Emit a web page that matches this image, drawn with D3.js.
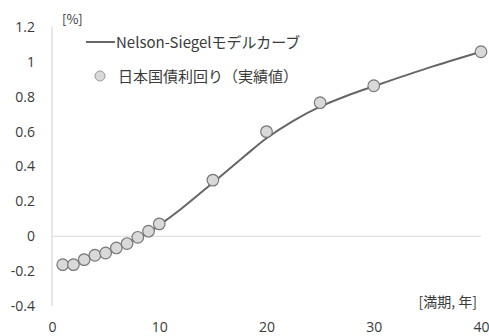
<!DOCTYPE html>
<html>
<head>
<meta charset="utf-8">
<script src="https://cdn.jsdelivr.net/npm/d3@7"></script>
<style>
  html, body { margin: 0; padding: 0; background: #fff; }
  svg { display: block; }
  .tick text, .lbl { fill: #3a3a3a; }
</style>
</head>
<body>
<svg id="chart" width="489" height="336"></svg>
<script>
// Observed JGB yields by maturity (years, %)
const maturities = [1, 2, 3, 4, 5, 6, 7, 8, 9, 10, 15, 20, 25, 30, 40];
const yields = [-0.163, -0.163, -0.134, -0.109, -0.096, -0.067, -0.042, -0.006, 0.029, 0.071, 0.322, 0.600, 0.766, 0.863, 1.058];

// Fitted Nelson-Siegel curve, sampled along maturity
const curveMaturities = [1, 2, 3, 4, 5, 6, 7, 8, 9, 10, 12, 15, 18, 20, 22.5, 25, 27.5, 30, 35, 40];
const curveYields = [-0.166, -0.153, -0.136, -0.117, -0.096, -0.072, -0.045, -0.014, 0.023, 0.064, 0.155, 0.307, 0.462, 0.562, 0.662, 0.743, 0.806, 0.86, 0.964, 1.058];

const yTicks = [-0.4, -0.2, 0, 0.2, 0.4, 0.6, 0.8, 1, 1.2];
const xTicks = [0, 10, 20, 30, 40];

const seriesNames = ["Nelson-Siegelモデルカーブ", "日本国債利回り（実績値）"];
const yUnit = "[%]";
const xUnit = "[満期, 年]";

const svg = d3.select("#chart");
const numFont = "'Open Sans', 'Noto Sans', sans-serif";
const jpFont = "'Noto Sans CJK JP', 'Noto Sans', sans-serif";

const x = d3.scaleLinear().domain([0, 40]).range([52, 481]);
const y = d3.scaleLinear().domain([-0.4, 1.2]).range([306, 27]);

// Vertical axis line
svg.append("line")
  .attr("x1", x(0)).attr("x2", x(0))
  .attr("y1", y(1.2)).attr("y2", y(-0.4))
  .attr("stroke", "#d9d9d9").attr("stroke-width", 1.2);

// Zero line
svg.append("line")
  .attr("x1", x(0)).attr("x2", x(40))
  .attr("y1", y(0)).attr("y2", y(0))
  .attr("stroke", "#d9d9d9").attr("stroke-width", 1.2);

// Y axis labels
const yAxis = d3.axisLeft(y).tickValues(yTicks).tickSize(0).tickPadding(17)
  .tickFormat(d => String(+d.toFixed(1)));
svg.append("g")
  .attr("transform", `translate(${x(0)},0)`)
  .call(yAxis)
  .call(g => g.select(".domain").remove())
  .selectAll("text")
  .style("font-family", numFont).style("font-size", "14px");

// X axis labels along the bottom
const xAxis = d3.axisBottom(x).tickValues(xTicks).tickSize(0).tickPadding(16);
svg.append("g")
  .attr("transform", `translate(0,${y(-0.4)})`)
  .call(xAxis)
  .call(g => g.select(".domain").remove())
  .selectAll("text")
  .style("font-family", numFont).style("font-size", "14px");

// Fitted curve
const lineGen = d3.line()
  .x((d, i) => x(curveMaturities[i]))
  .y(d => y(d))
  .curve(d3.curveCatmullRom.alpha(0.5));
svg.append("path")
  .datum(curveYields)
  .attr("d", lineGen)
  .attr("fill", "none")
  .attr("stroke", "#666666")
  .attr("stroke-width", 2);

// Observed yields
svg.append("g").selectAll("circle")
  .data(yields)
  .join("circle")
  .attr("cx", (d, i) => x(maturities[i]))
  .attr("cy", d => y(d))
  .attr("r", 5.8)
  .attr("fill", "#d9d9d9")
  .attr("stroke", "#777777")
  .attr("stroke-width", 1.2);

// Unit labels
svg.append("text").attr("class", "lbl")
  .attr("x", 62).attr("y", 24)
  .style("font-family", jpFont).style("font-size", "13px")
  .text(yUnit);
svg.append("text").attr("class", "lbl")
  .attr("x", 477).attr("y", 307)
  .attr("text-anchor", "end")
  .style("font-family", jpFont).style("font-size", "14px")
  .text(xUnit);

// Legend
svg.append("line")
  .attr("x1", 86).attr("x2", 115)
  .attr("y1", 42).attr("y2", 42)
  .attr("stroke", "#666666").attr("stroke-width", 2);
svg.append("text").attr("class", "lbl")
  .attr("x", 116).attr("y", 47.5)
  .style("font-family", jpFont).style("font-size", "15px")
  .text(seriesNames[0]);
svg.append("circle")
  .attr("cx", 100).attr("cy", 76).attr("r", 5)
  .attr("fill", "#d9d9d9").attr("stroke", "#999999").attr("stroke-width", 1);
svg.append("text").attr("class", "lbl")
  .attr("x", 118).attr("y", 81.5)
  .style("font-family", jpFont).style("font-size", "15px")
  .text(seriesNames[1]);
</script>
</body>
</html>
